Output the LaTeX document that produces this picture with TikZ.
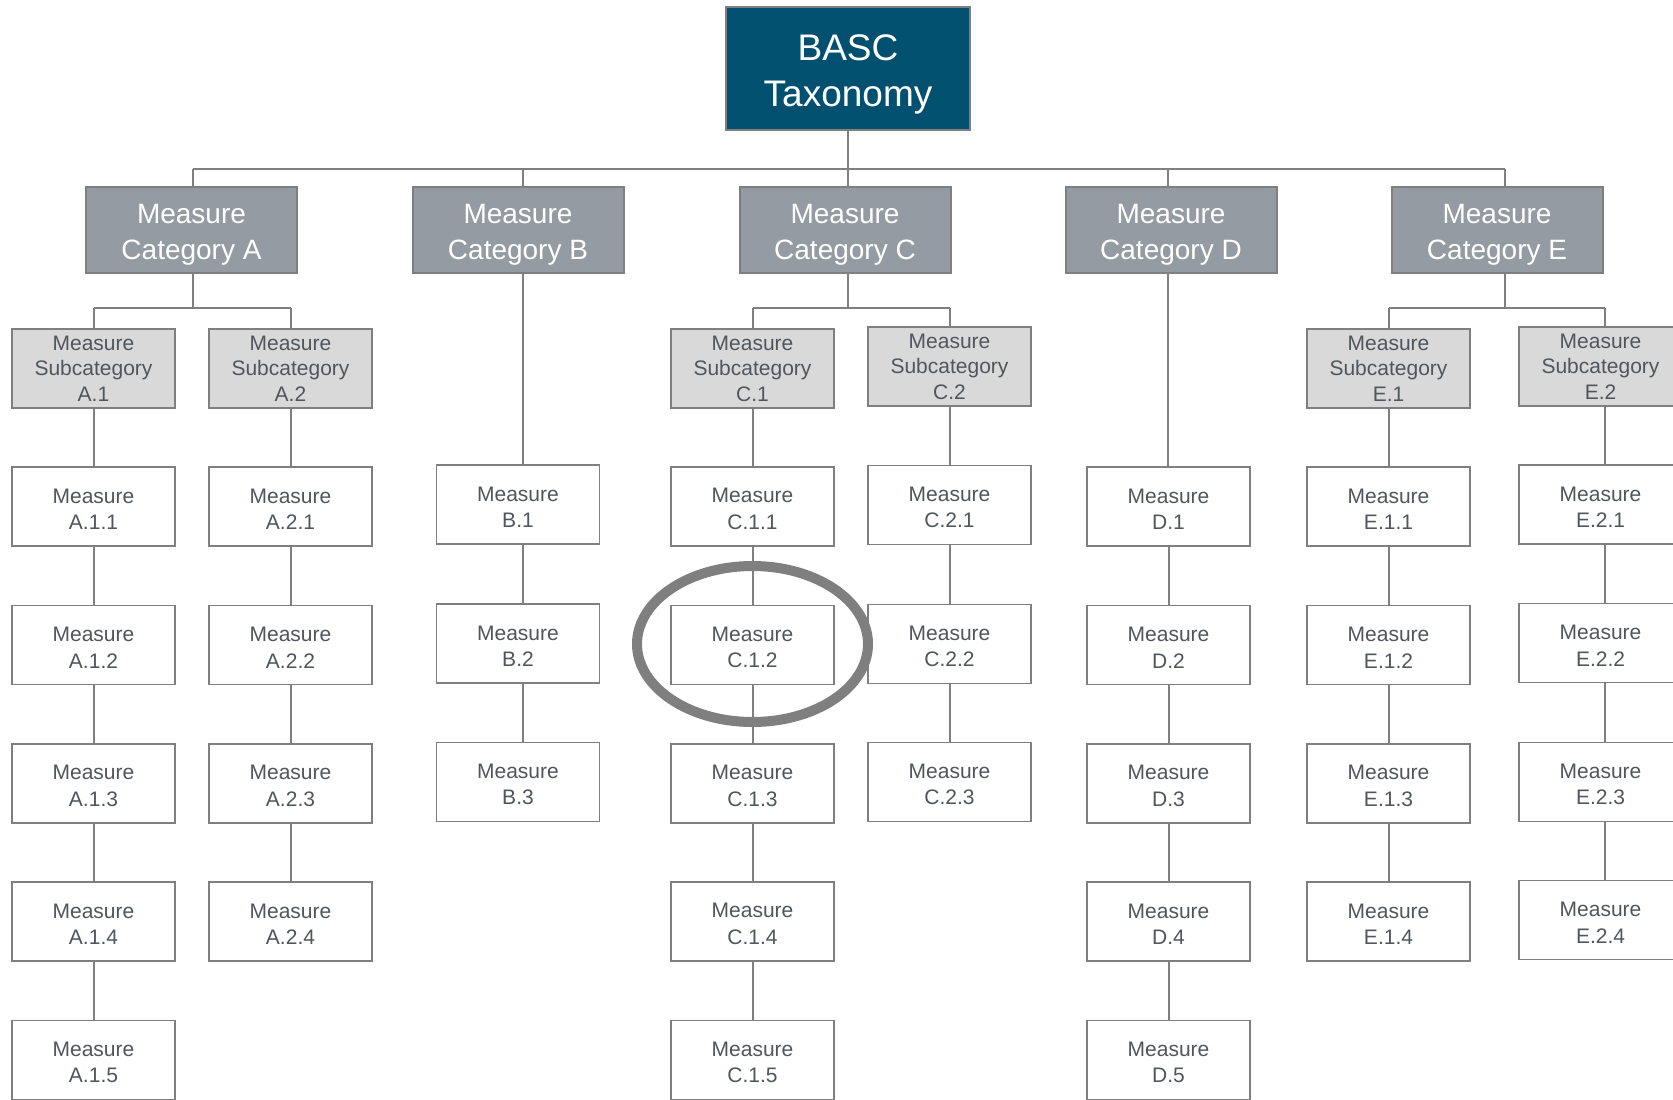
\documentclass[tikz,border=0pt]{standalone}
\usepackage{fontspec}
\setmainfont{Liberation Sans}
\definecolor{lineg}{HTML}{7F7F7F}
\definecolor{rootc}{HTML}{02506F}
\definecolor{catc}{HTML}{959BA3}
\definecolor{subc}{HTML}{D9D9D9}
\definecolor{txtc}{HTML}{50565C}
\tikzset{
 conn/.style={draw=lineg, line width=2pt},
 rootbox/.style={draw=lineg, line width=2pt, fill=rootc, text=white, minimum width=244pt, minimum height=123pt, align=center, font=\fontsize{37}{46}\selectfont, inner sep=0pt, text height=84pt},
 catbox/.style={draw=lineg, line width=2pt, fill=catc, text=white, minimum width=211pt, minimum height=86pt, align=center, font=\fontsize{28}{36}\selectfont, inner sep=0pt, text height=65pt},
 subbox/.style={draw=lineg, line width=1.6pt, fill=subc, text=txtc, minimum width=163pt, minimum height=79pt, align=center, font=\fontsize{21}{25.5}\selectfont, inner sep=0pt},
 mbox/.style={draw=lineg, line width=1.6pt, fill=white, text=txtc, minimum width=163pt, minimum height=79pt, align=center, font=\fontsize{21}{26.5}\selectfont, inner sep=0pt, text height=46pt},
 ring/.style={draw=lineg, line width=10pt},
}
\begin{document}
\begin{tikzpicture}[x=1pt,y=-1pt]
\useasboundingbox (0,0) rectangle (1673,1100);
% root and categories
\node[rootbox] (root) at (848,68) {BASC\\Taxonomy};
\node[catbox] (catA) at (191.5,230) {Measure\\Category A};
\node[catbox] (catB) at (518,230) {Measure\\Category B};
\node[catbox] (catC) at (845,230) {Measure\\Category C};
\node[catbox] (catD) at (1171,230) {Measure\\Category D};
\node[catbox] (catE) at (1497,230) {Measure\\Category E};
% subcategories
\node[subbox] (sA1) at (93.5,368.5) {Measure\\Subcategory\\A.1};
\node[subbox] (sA2) at (290.5,368.5) {Measure\\Subcategory\\A.2};
\node[subbox] (sC1) at (752.5,368.5) {Measure\\Subcategory\\C.1};
\node[subbox] (sC2) at (949.5,366.5) {Measure\\Subcategory\\C.2};
\node[subbox] (sE1) at (1388.5,368.5) {Measure\\Subcategory\\E.1};
\node[subbox] (sE2) at (1600.5,366.5) {Measure\\Subcategory\\E.2};
% measures A.1
\node[mbox] (mA11) at (93.5,506.5) {Measure\\A.1.1};
\node[mbox] (mA12) at (93.5,645) {Measure\\A.1.2};
\node[mbox] (mA13) at (93.5,783.5) {Measure\\A.1.3};
\node[mbox] (mA14) at (93.5,921.5) {Measure\\A.1.4};
\node[mbox] (mA15) at (93.5,1060) {Measure\\A.1.5};
% A.2
\node[mbox] (mA21) at (290.5,506.5) {Measure\\A.2.1};
\node[mbox] (mA22) at (290.5,645) {Measure\\A.2.2};
\node[mbox] (mA23) at (290.5,783.5) {Measure\\A.2.3};
\node[mbox] (mA24) at (290.5,921.5) {Measure\\A.2.4};
% B
\node[mbox] (mB1) at (518,504.5) {Measure\\B.1};
\node[mbox] (mB2) at (518,643.5) {Measure\\B.2};
\node[mbox] (mB3) at (518,782) {Measure\\B.3};
% C.1
\node[mbox] (mC11) at (752.5,506.5) {Measure\\C.1.1};
\node[mbox] (mC12) at (752.5,645) {Measure\\C.1.2};
\node[mbox] (mC13) at (752.5,783.5) {Measure\\C.1.3};
\node[mbox] (mC14) at (752.5,921.5) {Measure\\C.1.4};
\node[mbox] (mC15) at (752.5,1060) {Measure\\C.1.5};
% C.2
\node[mbox] (mC21) at (949.5,505) {Measure\\C.2.1};
\node[mbox] (mC22) at (949.5,644) {Measure\\C.2.2};
\node[mbox] (mC23) at (949.5,782) {Measure\\C.2.3};
% D
\node[mbox] (mD1) at (1168.5,506.5) {Measure\\D.1};
\node[mbox] (mD2) at (1168.5,645) {Measure\\D.2};
\node[mbox] (mD3) at (1168.5,783.5) {Measure\\D.3};
\node[mbox] (mD4) at (1168.5,921.5) {Measure\\D.4};
\node[mbox] (mD5) at (1168.5,1060) {Measure\\D.5};
% E.1
\node[mbox] (mE11) at (1388.5,506.5) {Measure\\E.1.1};
\node[mbox] (mE12) at (1388.5,645) {Measure\\E.1.2};
\node[mbox] (mE13) at (1388.5,783.5) {Measure\\E.1.3};
\node[mbox] (mE14) at (1388.5,921.5) {Measure\\E.1.4};
% E.2
\node[mbox] (mE21) at (1600.5,504.5) {Measure\\E.2.1};
\node[mbox] (mE22) at (1600.5,643) {Measure\\E.2.2};
\node[mbox] (mE23) at (1600.5,782) {Measure\\E.2.3};
\node[mbox] (mE24) at (1600.5,920) {Measure\\E.2.4};
% buses
\coordinate (topbus) at (848,169);
\coordinate (subbus) at (0,308);
\coordinate (dropA) at (193,0);
\coordinate (dropB) at (523,0);
\coordinate (dropC) at (848,0);
\coordinate (dropD) at (1168,0);
\coordinate (dropE) at (1505,0);
\draw[conn] (root.south) -- (topbus);
\draw[conn] (dropA |- topbus) -- (dropE |- topbus);
\foreach \c in {A,B,C,D,E} \draw[conn] (drop\c |- cat\c.north) -- (drop\c |- topbus);
% category to subcategory
\draw[conn] (dropA |- catA.south) -- (dropA |- subbus);
\draw[conn] (sA1.north |- subbus) -- (sA2.north |- subbus);
\draw[conn] (sA1.north) -- (sA1.north |- subbus);
\draw[conn] (sA2.north) -- (sA2.north |- subbus);
\draw[conn] (dropC |- catC.south) -- (dropC |- subbus);
\draw[conn] (sC1.north |- subbus) -- (sC2.north |- subbus);
\draw[conn] (sC1.north) -- (sC1.north |- subbus);
\draw[conn] (sC2.north) -- (sC2.north |- subbus);
\draw[conn] (dropE |- catE.south) -- (dropE |- subbus);
\draw[conn] (sE1.north |- subbus) -- ([xshift=4pt]sE2.north |- subbus);
\draw[conn] (sE1.north) -- (sE1.north |- subbus);
\draw[conn] ([xshift=4pt]sE2.north) -- ([xshift=4pt]sE2.north |- subbus);
% chains
\draw[conn] (sA1) -- (mA11) -- (mA12) -- (mA13) -- (mA14) -- (mA15);
\draw[conn] (sA2) -- (mA21) -- (mA22) -- (mA23) -- (mA24);
\draw[conn] (dropB |- catB.south) -- (dropB |- mB1.north);
\draw[conn] (dropB |- mB1.south) -- (dropB |- mB2.north);
\draw[conn] (dropB |- mB2.south) -- (dropB |- mB3.north);
\draw[conn] (sC1) -- (mC11) -- (mC12) -- (mC13) -- (mC14) -- (mC15);
\draw[conn] (sC2) -- (mC21) -- (mC22) -- (mC23);
\draw[conn] (dropD |- catD.south) -- (dropD |- mD1.north);
\draw[conn] (mD1) -- (mD2) -- (mD3) -- (mD4) -- (mD5);
\draw[conn] (sE1) -- (mE11) -- (mE12) -- (mE13) -- (mE14);
\draw[conn] ([xshift=4pt]sE2.south) -- ([xshift=4pt]mE21.north);
\draw[conn] ([xshift=4pt]mE21.south) -- ([xshift=4pt]mE22.north);
\draw[conn] ([xshift=4pt]mE22.south) -- ([xshift=4pt]mE23.north);
\draw[conn] ([xshift=4pt]mE23.south) -- ([xshift=4pt]mE24.north);
% highlight ring
\draw[ring] ([yshift=1pt]mC12.center) ellipse [x radius=115.5pt, y radius=78pt];
\end{tikzpicture}
\end{document}
